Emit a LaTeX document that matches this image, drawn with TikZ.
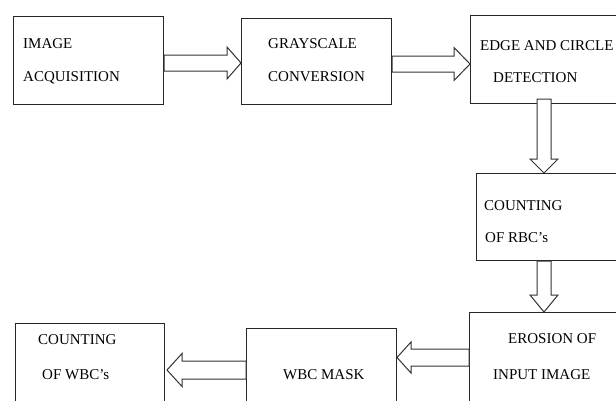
\documentclass[tikz,border=0pt]{standalone}
\usepackage{fontspec}
\setmainfont{Liberation Serif}
\usetikzlibrary{calc}

% hollow block arrow from #1 to #2: half shaft width, half head width, head length
\newcommand\blockarrow[5]{%
  \coordinate (hb) at ($(#2)!#5!(#1)$);
  \draw[arrowline] ($(#1)!#3!90:(#2)$) -- ($(hb)!#3!90:(#2)$)
    -- ($(hb)!#4!90:(#2)$) -- (#2) -- ($(hb)!#4!-90:(#2)$)
    -- ($(hb)!#3!-90:(#2)$) -- ($(#1)!#3!-90:(#2)$) -- cycle;}

\tikzset{
  box/.style={draw=black!85, line width=1pt, rectangle, anchor=north west, inner sep=0pt},
  lbl/.style={anchor=base west, inner sep=0pt, font=\fontsize{15}{15}\selectfont},
  arrowline/.style={draw=black!80, line width=1pt, fill=white, line join=miter},
}

\begin{document}
\begin{tikzpicture}[x=1pt,y=-1pt]
\useasboundingbox (0,0) rectangle (616,400);
\clip (0,0) rectangle (616,400);

% process boxes
\node[box, minimum width=150pt, minimum height=88pt] (b1) at (13,16) {};
\node[box, minimum width=150pt, minimum height=86pt] (b2) at (241,18) {};
\node[box, minimum width=160pt, minimum height=88pt] (b3) at (470,15) {};
\node[box, minimum width=154pt, minimum height=87pt] (b4) at (476,173) {};
\node[box, minimum width=161pt, minimum height=108pt] (b5) at (469,312) {};
\node[box, minimum width=150pt, minimum height=92pt] (b6) at (246,328) {};
\node[box, minimum width=149pt, minimum height=97pt] (b7) at (15,323) {};

% labels
\node[lbl] (t1a) at (23,48) {IMAGE};
\node[lbl] (t1b) at (23,81) {ACQUISITION};
\node[lbl] (t2a) at (268,48) {GRAYSCALE};
\node[lbl] (t2b) at (268,81) {CONVERSION};
\node[lbl] (t3a) at (480,50) {EDGE AND CIRCLE};
\node[lbl] (t3b) at (493,82) {DETECTION};
\node[lbl] (t4a) at (484,210) {COUNTING};
\node[lbl] (t4b) at (485,242) {OF RBC’s};
\node[lbl] (t5a) at (508,343) {EROSION OF};
\node[lbl] (t5b) at (493,379) {INPUT IMAGE};
\node[lbl] (t6)  at (283,379) {WBC MASK};
\node[lbl] (t7a) at (38,344) {COUNTING};
\node[lbl] (t7b) at (42,379) {OF WBC’s};

% arrow end points on the box edges
\coordinate (a1s) at (b1.east |- 0,63);
\coordinate (a1e) at (b2.west |- 0,63);
\coordinate (a2s) at (b2.east |- 0,64);
\coordinate (a2e) at (b3.west |- 0,64);
\coordinate (a3s) at ($(b3.south -| 544,0)+(0,-5)$);
\coordinate (a3e) at (b4.north -| 544,0);
\coordinate (a4s) at (b4.south -| 544,0);
\coordinate (a4e) at (b5.north -| 544,0);
\coordinate (a5s) at (b5.west |- 0,357.5);
\coordinate (a5e) at (b6.east |- 0,357.5);
\coordinate (a6s) at (b6.west |- 0,370);
\coordinate (a6e) at ($(b7.east |- 0,370)+(2,0)$);

% connectors
\blockarrow{a1s}{a1e}{8pt}{16pt}{14pt}
\blockarrow{a2s}{a2e}{8pt}{16.5pt}{16pt}
\blockarrow{a3s}{a3e}{7pt}{14pt}{14pt}
\blockarrow{a4s}{a4e}{7pt}{14pt}{17pt}
\blockarrow{a5s}{a5e}{8.5pt}{15.5pt}{14pt}
\blockarrow{a6s}{a6e}{9pt}{16.5pt}{15pt}
\end{tikzpicture}
\end{document}
